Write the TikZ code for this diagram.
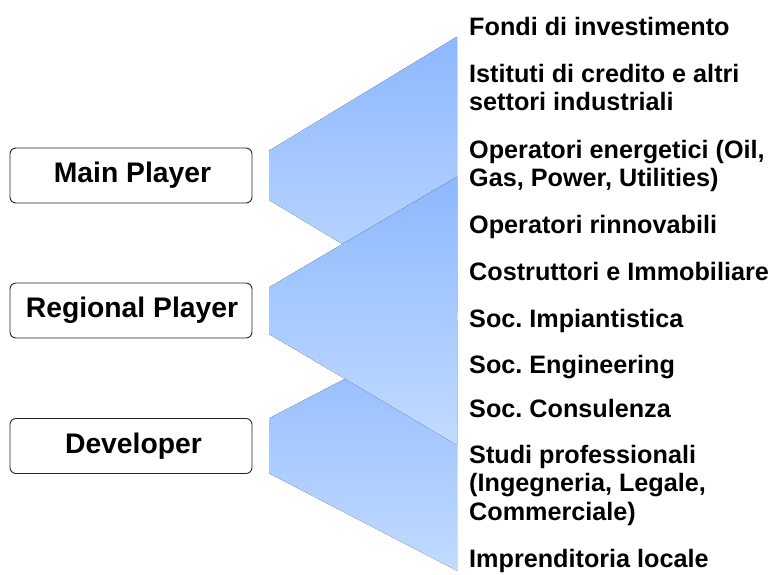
\documentclass[tikz,border=0pt]{standalone}
\usepackage{fontspec}
\setmainfont{Liberation Sans}
\definecolor{wtop}{HTML}{8DB8FF}
\definecolor{wbot}{HTML}{C2DBFF}
\frenchspacing
\begin{document}
\begin{tikzpicture}[x=1pt,y=-1pt,
  wedge/.style={top color=wtop, bottom color=wbot, draw=none},
  player/.style={draw=black!85, line width=0.9pt, rounded corners=6pt, minimum width=242pt, minimum height=55pt, inner sep=0pt, font=\fontsize{28.3}{33}\selectfont\bfseries},
  item/.style={anchor=base west, inner sep=0pt, align=left, font=\fontsize{25.2}{28.5}\selectfont\bfseries\frenchspacing}]
\useasboundingbox (0,0) rectangle (770,574);
% wedges
\fill[wedge] (269,150.7) -- (457,36.7) -- (457,313) -- (269,200) -- cycle;
\fill[wedge] (269,418.3) -- (457,320.6) -- (457,570.7) -- (269,473.3) -- cycle;
\fill[wedge] (269,287.3) -- (457,176.7) -- (457,445) -- (269,334) -- cycle;
% boxes
\node[player] (main) at (131,175.5) {\hspace*{3pt}Main Player};
\node[player] (regional) at (131,310.5) {\hspace*{2pt}Regional Player};
\node[player] (developer) at (131,446) {\hspace*{5pt}Developer};
% items (anchor = baseline of last line)
\node[item] (t1) at (469,35) {Fondi di investimento};
\node[item] (t2) at (469,110.5) {Istituti di credito e altri\\settori industriali};
\node[item] (t3) at (469,186.5) {Operatori energetici (Oil,\\Gas, Power, Utilities)};
\node[item] (t4) at (469,233) {Operatori rinnovabili};
\node[item] (t5) at (469,280) {Costruttori e Immobiliare};
\node[item] (t6) at (469,327) {Soc. Impiantistica};
\node[item] (t7) at (469,373) {Soc. Engineering};
\node[item] (t8) at (469,417) {Soc. Consulenza};
\node[item] (t9) at (469,520) {Studi professionali\\(Ingegneria, Legale,\\Commerciale)};
\node[item] (t10) at (469,567) {Imprenditoria locale};
\end{tikzpicture}
\end{document}
